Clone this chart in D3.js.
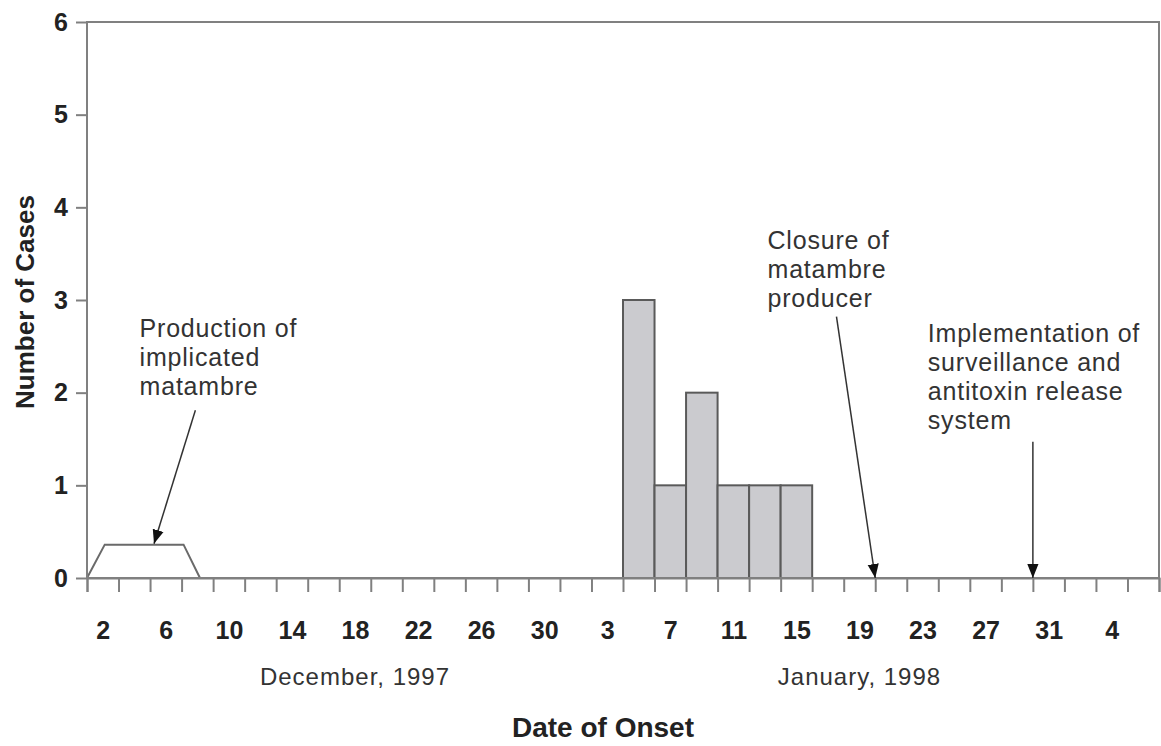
<!DOCTYPE html>
<html>
<head>
<meta charset="utf-8">
<script src="https://cdn.jsdelivr.net/npm/d3@7"></script>
<style>
  body { margin: 0; background: #fff; }
  text { font-family: "Liberation Sans", Arial, sans-serif; fill: #222; }
</style>
</head>
<body>
<div class="onset_chart"></div>
<script>
// Cases by 2-day onset interval (start date of each interval)
const caseDates = ["1998-01-05", "1998-01-07", "1998-01-09", "1998-01-11", "1998-01-13", "1998-01-15"];
const caseCounts = [3, 1, 2, 1, 1, 1];

// Labelled intervals on the date axis
const labelDates = ["1997-12-02", "1997-12-06", "1997-12-10", "1997-12-14", "1997-12-18", "1997-12-22",
                    "1997-12-26", "1997-12-30", "1998-01-03", "1998-01-07", "1998-01-11", "1998-01-15",
                    "1998-01-19", "1998-01-23", "1998-01-27", "1998-01-31", "1998-02-04"];
const tickLabels = ["2", "6", "10", "14", "18", "22", "26", "30", "3", "7", "11", "15", "19", "23", "27", "31", "4"];

const yTicks = [0, 1, 2, 3, 4, 5, 6];

// Production period of implicated matambre (days after Dec 2, height)
const productionDays = [0, 1.14, 6.15, 7.17];
const productionLevel = [0, 0.36, 0.36, 0];

// Annotations: text anchor and arrow in data units (days after Dec 2, cases)
const noteLines = [
  ["Production of", "implicated", "matambre"],
  ["Closure of", "matambre", "producer"],
  ["Implementation of", "surveillance and", "antitoxin release", "system"]
];
const noteTextDay = [3.35, 43.2, 53.35];
const noteTextLevel = [2.6, 3.55, 2.55];
const arrowFromDay = [6.9, 47.55, 60];
const arrowFromLevel = [1.81, 2.82, 1.47];
const arrowToDay = [4.25, 50, 60];
const arrowToLevel = [0.37, 0, 0];

const monthLabels = ["December, 1997", "January, 1998"];
const monthCenterDates = ["1997-12-19", "1998-01-20"];

const parseDate = d3.timeParse("%Y-%m-%d");
const startDate = parseDate("1997-12-02");
const endDate = parseDate("1998-02-08");
const addDays = (dt, n) => d3.timeHour.offset(dt, n * 24);

const margin = {top: 22, right: 2, bottom: 168, left: 87},
      width = 1161 - margin.left - margin.right,
      height = 746 - margin.top - margin.bottom;

const svg = d3.select(".onset_chart")
  .append("svg")
  .attr("width", 1161)
  .attr("height", 746)
  .append("g")
  .attr("transform", "translate(" + margin.left + "," + margin.top + ")");

const x = d3.scaleTime()
  .domain([startDate, endDate])
  .range([0, width]);

const y = d3.scaleLinear()
  .domain([0, 6])
  .range([height, 0]);

const axisColor = "#808080";

// bars
svg.append("g").selectAll("rect")
  .data(caseDates)
  .enter()
  .append("rect")
  .attr("x", d => x(parseDate(d)))
  .attr("width", d => x(addDays(parseDate(d), 2)) - x(parseDate(d)))
  .attr("y", (d, i) => y(caseCounts[i]))
  .attr("height", (d, i) => y(0) - y(caseCounts[i]))
  .style("fill", "#cbcbcf")
  .style("stroke", "#5a5a5a")
  .style("stroke-width", 2);

// production period outline
svg.append("path")
  .datum(productionDays.map((d, i) => [d, productionLevel[i]]))
  .attr("d", d3.line()
    .x(d => x(addDays(startDate, d[0])))
    .y(d => y(d[1])))
  .style("fill", "none")
  .style("stroke", "#6a6a6a")
  .style("stroke-width", 2);

// frame
svg.append("rect")
  .attr("x", 0).attr("y", 0)
  .attr("width", width).attr("height", height)
  .style("fill", "none")
  .style("stroke", axisColor)
  .style("stroke-width", 2);

// y axis
const yAxis = svg.append("g")
  .call(d3.axisLeft(y).tickValues(yTicks).tickSize(11).tickPadding(8).tickFormat(d3.format("d")));
yAxis.select(".domain").remove();
yAxis.selectAll("line").attr("stroke", axisColor).attr("stroke-width", 2);
yAxis.selectAll("text")
  .style("font-size", "25px")
  .style("font-weight", "bold")
  .style("font-family", "'Liberation Sans', Arial, sans-serif")
  .attr("fill", "#222");

// x axis tick marks every 2 days
const tickDates = d3.timeDay.range(startDate, endDate).filter((d, i) => i % 2 === 0);
tickDates.push(endDate);
const xAxis = svg.append("g")
  .attr("transform", "translate(0," + height + ")")
  .call(d3.axisBottom(x).tickValues(tickDates).tickSize(14).tickFormat(""));
xAxis.select(".domain").attr("stroke", axisColor).attr("stroke-width", 2);
xAxis.selectAll("line").attr("stroke", axisColor).attr("stroke-width", 2);

// x labels at centre of labelled intervals
const labelAxis = svg.append("g")
  .attr("transform", "translate(0," + height + ")")
  .call(d3.axisBottom(x)
    .tickValues(labelDates.map(d => addDays(parseDate(d), 1)))
    .tickSize(0)
    .tickPadding(43)
    .tickFormat((d, i) => tickLabels[i]));
labelAxis.select(".domain").remove();
labelAxis.selectAll("text")
  .style("font-size", "25px")
  .style("font-weight", "bold")
  .style("font-family", "'Liberation Sans', Arial, sans-serif")
  .attr("fill", "#222");

// month labels
svg.selectAll(".month")
  .data(monthLabels)
  .enter()
  .append("text")
  .attr("class", "month")
  .attr("x", (d, i) => x(parseDate(monthCenterDates[i])))
  .attr("y", height + 107)
  .style("text-anchor", "middle")
  .style("font-size", "24px")
  .style("letter-spacing", "1px")
  .style("fill", "#333")
  .text(d => d);

// axis titles
svg.append("text")
  .attr("transform", `translate(${width / 2 - 20}, ${height + 159})`)
  .style("text-anchor", "middle")
  .style("font-size", "28px")
  .style("font-weight", "bold")
  .text("Date of Onset");

svg.append("text")
  .attr("transform", "rotate(-90)")
  .attr("x", -(y(0) + y(6)) / 2 + 22 - 24)
  .attr("y", -margin.left + 34)
  .style("text-anchor", "middle")
  .style("font-size", "26px")
  .style("font-weight", "bold")
  .text("Number of Cases");

// arrowhead
svg.append("defs").append("marker")
  .attr("id", "arrow")
  .attr("viewBox", "0 0 10 10")
  .attr("refX", 10).attr("refY", 5)
  .attr("markerWidth", 14).attr("markerHeight", 14)
  .attr("markerUnits", "userSpaceOnUse")
  .attr("orient", "auto")
  .append("path")
  .attr("d", "M0,1 L10,5 L0,9 Z")
  .style("fill", "#111");

// annotations
noteLines.forEach((lines, i) => {
  const t = svg.append("text")
    .attr("x", x(addDays(startDate, noteTextDay[i])))
    .attr("y", y(noteTextLevel[i]))
    .style("font-size", "25px")
    .style("letter-spacing", "0.8px")
    .style("fill", "#333");
  lines.forEach((line, j) => {
    t.append("tspan")
      .attr("x", x(addDays(startDate, noteTextDay[i])))
      .attr("dy", j === 0 ? 0 : 29)
      .text(line);
  });

  svg.append("line")
    .attr("x1", x(addDays(startDate, arrowFromDay[i])))
    .attr("y1", y(arrowFromLevel[i]))
    .attr("x2", x(addDays(startDate, arrowToDay[i])))
    .attr("y2", y(arrowToLevel[i]))
    .attr("stroke", "#333")
    .attr("stroke-width", 1.5)
    .attr("marker-end", "url(#arrow)");
});
</script>
</body>
</html>
